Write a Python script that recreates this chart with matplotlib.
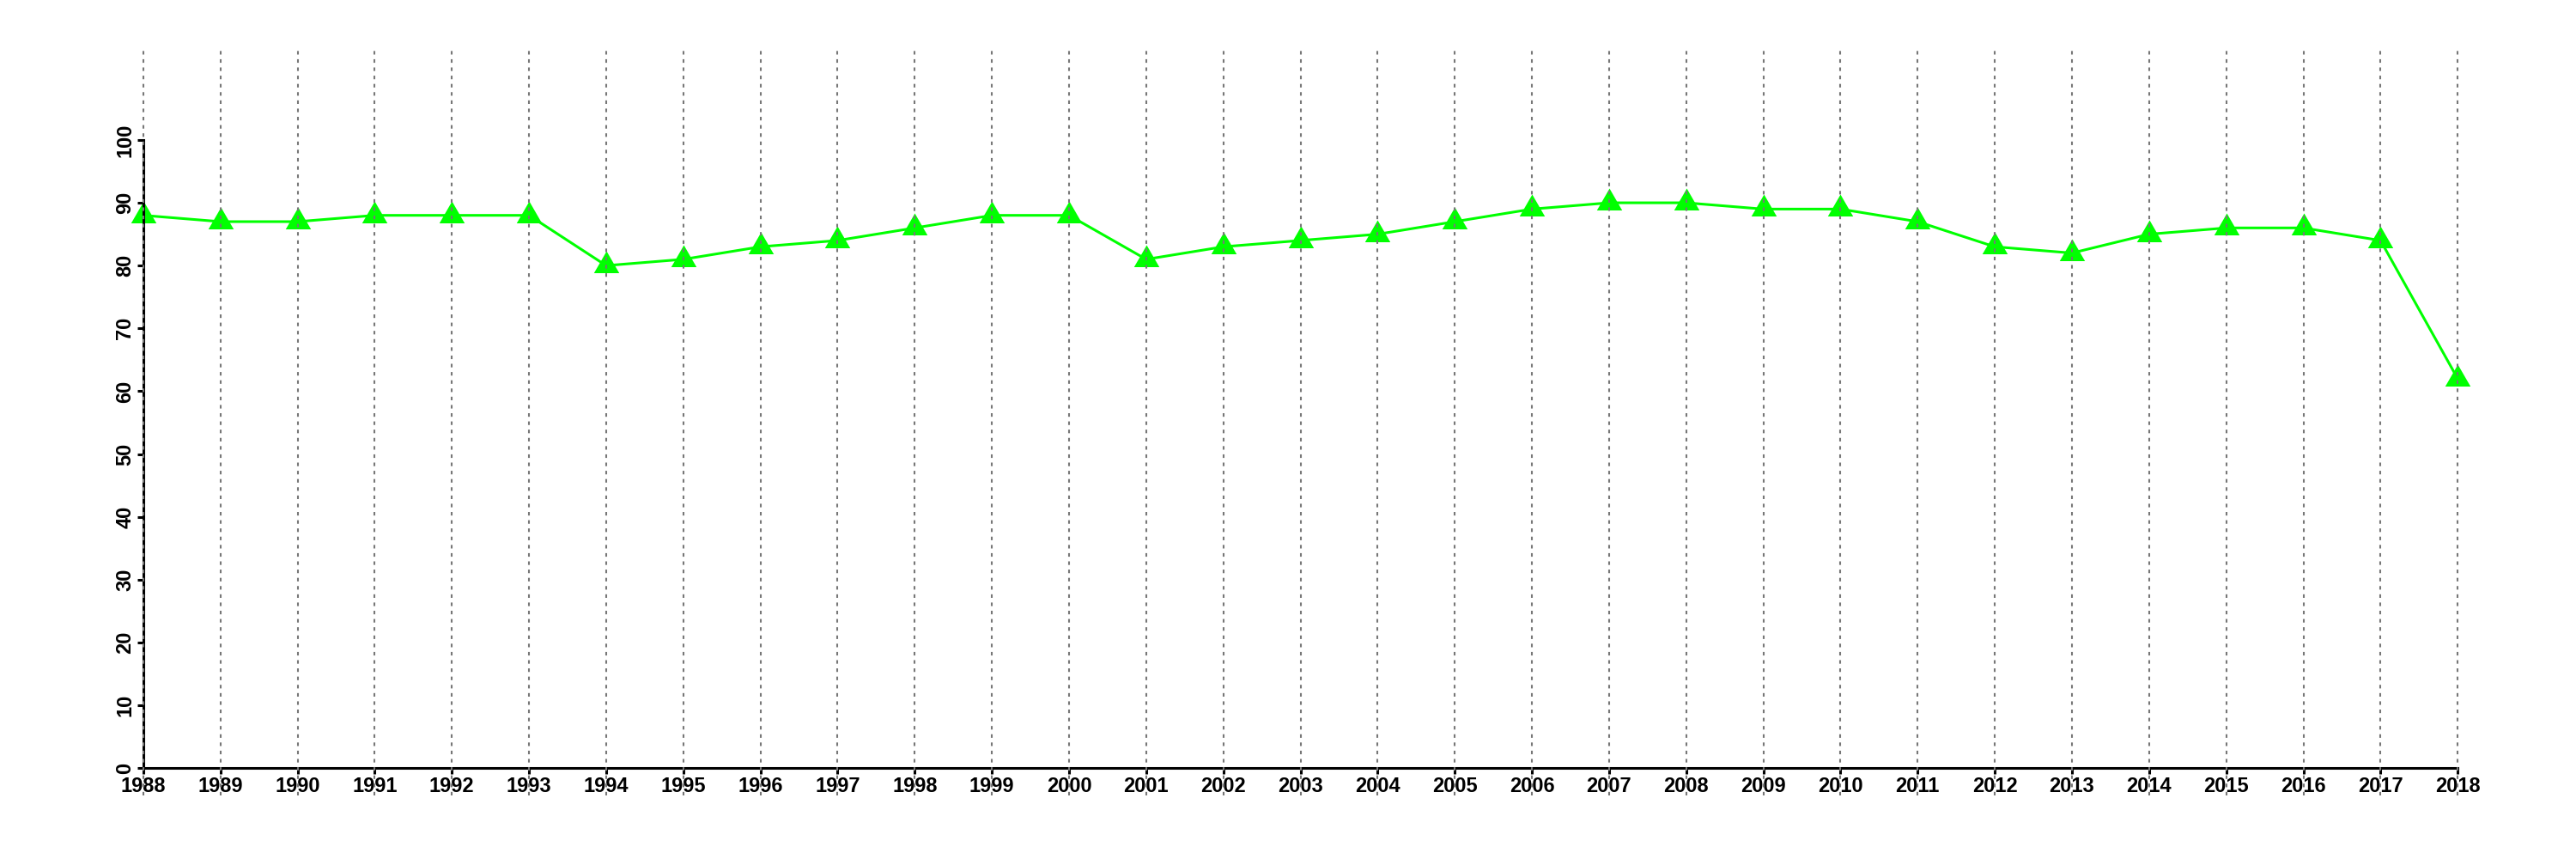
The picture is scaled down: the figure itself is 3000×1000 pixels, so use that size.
import numpy as np
import matplotlib
matplotlib.use("Agg")
import matplotlib.pyplot as plt

# --- 데이터 ---
years = list(range(1988, 2019))
values = [88, 87, 87, 88, 88, 88, 80, 81, 83, 84, 86, 88, 88, 81, 83, 84,
          85, 87, 89, 90, 90, 89, 89, 87, 83, 82, 85, 86, 86, 84, 62]
y_ticks = list(range(0, 101, 10))

plt.rcParams["font.family"] = ["Liberation Sans", "DejaVu Sans"]
plt.rcParams["font.weight"] = "bold"

fig = plt.figure(figsize=(30, 10), dpi=100)
ax = fig.add_axes([0.0197, 0.0738, 0.9703, 0.8685])

# R pch=17 처럼 무게중심 기준 정삼각형
tri = [(0, 1.0), (-0.866, -0.5), (0.866, -0.5)]
ax.plot(years, values, color="#00FF00", lw=2.2, marker=tri, markersize=24.5,
        markeredgewidth=0, zorder=2, clip_on=False)

# 세로 점선
for yr in years:
    ax.axvline(yr, color="#777777", lw=1.5, linestyle=(0, (2.0, 2.6)), zorder=3)

ax.set_xlim(years[0] - 1.2, years[-1] + 1.2)
ax.set_ylim(-4.4, 114.4)

ax.spines["top"].set_visible(False)
ax.spines["right"].set_visible(False)
ax.spines["left"].set_position(("data", years[0]))
ax.spines["bottom"].set_position(("data", 0))
ax.spines["left"].set_bounds(0, 100)
ax.spines["bottom"].set_bounds(years[0], years[-1])
for s in ("left", "bottom"):
    ax.spines[s].set_linewidth(2.2)

ax.set_xticks(years)
ax.set_xticklabels([str(y) for y in years])
ax.set_yticks(y_ticks)
ax.set_yticklabels([str(v) for v in y_ticks], rotation=90, va="center")
ax.tick_params(axis="both", length=5, width=2.2, labelsize=17, pad=2)

fig.savefig("out.png", dpi=100)
